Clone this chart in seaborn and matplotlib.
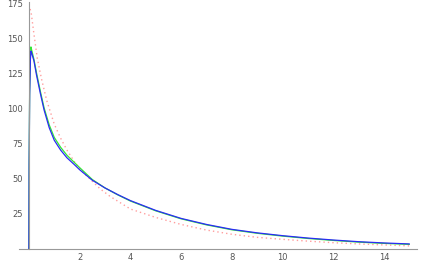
import numpy as np
import pandas as pd
import matplotlib
matplotlib.use("Agg")
import matplotlib.pyplot as plt
from matplotlib.ticker import MultipleLocator
import seaborn as sns

# values
x_main = [0, 0.01, 0.03, 0.06, 0.08, 0.12, 0.2, 0.3, 0.45, 0.6, 0.8, 1.0, 1.25, 1.5,
          1.8, 2.0, 2.5, 3.0, 3.5, 4.0, 5.0, 6.0, 7.0, 8.0, 9.0, 10, 11, 12, 13, 14, 15]
blue = [0, 60, 110, 135, 141, 139, 134, 124, 111, 99, 86.5, 77.5, 70.5, 65,
        60, 56.5, 49, 43.5, 38.8, 34.5, 27.5, 21.8, 17.5, 14, 11.5, 9.5, 7.8, 6.4, 5.2, 4.3, 3.6]
green = [0, 62, 113, 137, 144, 141, 135, 125.5, 112.5, 100.5, 88.5, 79.5, 72.5, 66.8,
         61.5, 58, 49.5, 43.5, 38.6, 34.2, 27.2, 21.5, 17.2, 13.7, 11.2, 9.2, 7.5, 6.1, 4.9, 4.0, 3.3]

x_pink = [0.05, 0.1, 0.2, 0.33, 0.5, 0.7, 1.0, 1.25, 1.5, 1.8, 2.0, 2.4, 2.8,
          3.2, 4, 5, 6, 7, 8, 9, 10, 11, 12, 13, 14, 15]
pink = [171, 167, 153, 136, 121, 106, 89, 79, 70.5, 62, 57, 50, 43,
        37.5, 28.5, 22.5, 17.5, 13.5, 10.5, 8.3, 6.9, 5.6, 4.5, 3.6, 2.9, 2.2]

df_main = pd.DataFrame({"x": x_main, "blue": blue, "green": green})
df_pink = pd.DataFrame({"x": x_pink, "y": pink})

sns.set_style("white")

fig = plt.figure(figsize=(4.25, 2.63), dpi=100)
ax = fig.add_axes([19 / 425, 14 / 263, 398 / 425, 247 / 263])

sns.lineplot(data=df_pink, x="x", y="y", ax=ax, color="#ff9e9e", lw=1.0,
             linestyle=(0, (1, 2.2)), estimator=None)
sns.lineplot(data=df_main, x="x", y="green", ax=ax, color="#33e633", lw=0.9, estimator=None)
sns.lineplot(data=df_main, x="x", y="blue", ax=ax, color="#2b2bf5", lw=0.9, estimator=None)

ax.set_xlim(-0.39, 15.3)
ax.set_ylim(0, 176)
ax.set_xlabel("")
ax.set_ylabel("")

ax.spines["left"].set_position(("data", 0))
ax.spines["bottom"].set_position(("data", 0))
for side in ["top", "right"]:
    ax.spines[side].set_visible(False)
for side in ["left", "bottom"]:
    ax.spines[side].set_color("#999999")
    ax.spines[side].set_linewidth(0.8)

ax.xaxis.set_major_locator(MultipleLocator(2))
ax.xaxis.set_minor_locator(MultipleLocator(0.5))
ax.yaxis.set_major_locator(MultipleLocator(25))
ax.yaxis.set_minor_locator(MultipleLocator(5))

ax.tick_params(axis="both", which="major", direction="in", length=3, width=0.6,
               color="#999999", labelsize=6, labelcolor="#555555")
ax.tick_params(axis="both", which="minor", direction="in", length=1.8, width=0.5,
               color="#aaaaaa")
ax.tick_params(axis="x", pad=3)
ax.tick_params(axis="y", pad=4)

ax.set_xticks([2, 4, 6, 8, 10, 12, 14])
ax.set_xticklabels(["2", "4", "6", "8", "10", "12", "14"])
ax.set_yticks([25, 50, 75, 100, 125, 150, 175])
ax.set_yticklabels(["25", "50", "75", "100", "125", "150", "175"])

fig.savefig("out.png", dpi=100)
